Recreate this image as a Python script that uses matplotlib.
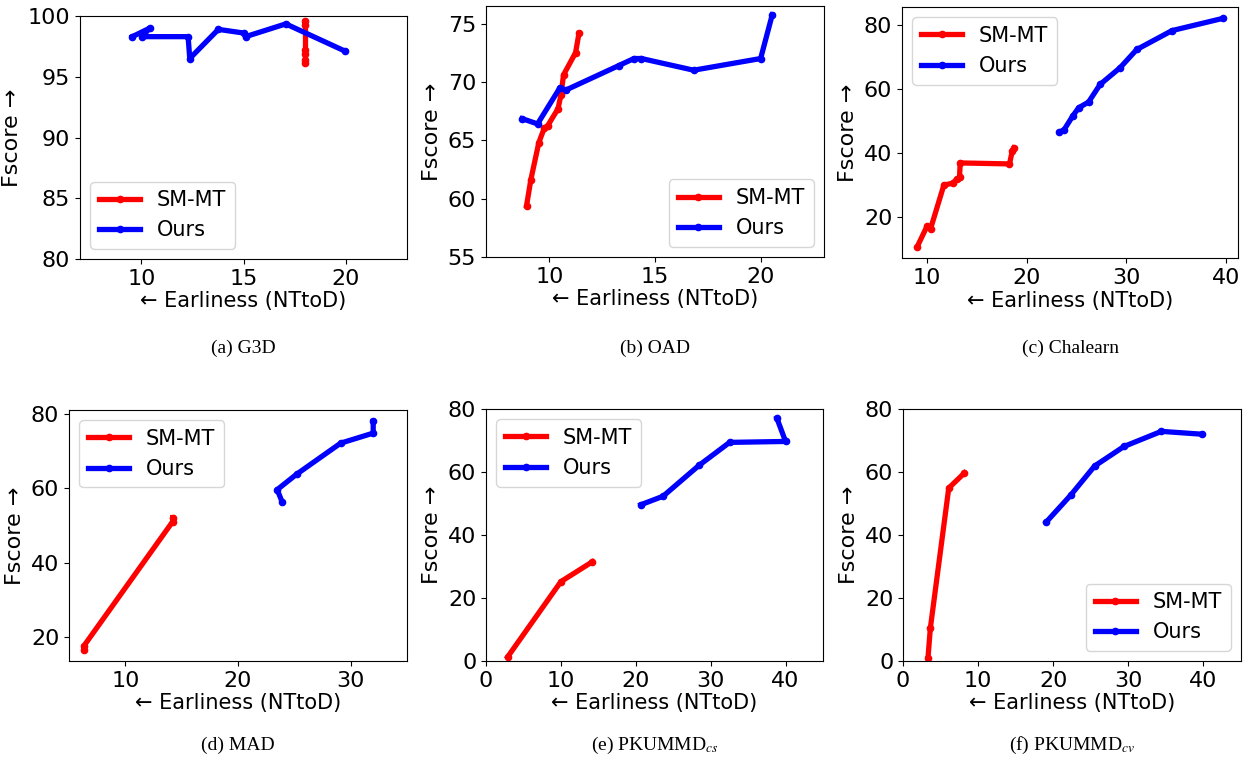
"""
Fscore vs earliness (NTtoD) for SM-MT and our method on six datasets.
"""

import matplotlib
matplotlib.use('Agg')
import matplotlib.pyplot as plt

# (a) G3D
g3d_smmt_x = [18.0, 18.0, 18.0, 18.0, 18.0, 18.0]
g3d_smmt_y = [99.55, 99.25, 97.2, 96.9, 96.4, 96.1]
g3d_ours_x = [9.56, 10.41, 10.05, 12.29, 12.37, 13.77, 15.0, 15.1, 17.07, 19.98]
g3d_ours_y = [98.3, 99.0, 98.3, 98.3, 96.5, 98.9, 98.6, 98.3, 99.35, 97.1]

# (b) OAD
oad_smmt_x = [8.92, 9.12, 9.5, 9.76, 9.92, 10.41, 10.55, 10.67, 11.24, 11.4]
oad_smmt_y = [59.4, 61.6, 64.8, 66.05, 66.25, 67.7, 68.9, 70.6, 72.5, 74.15]
oad_ours_x = [8.71, 9.44, 10.5, 10.78, 13.29, 14.0, 14.36, 16.83, 20.0, 20.55]
oad_ours_y = [66.85, 66.4, 69.5, 69.3, 71.4, 72.0, 72.0, 71.0, 72.0, 75.75]

# (c) Chalearn
cha_smmt_x = [9.0, 9.97, 10.33, 11.67, 12.58, 13.0, 13.24, 13.31, 18.26, 18.53, 18.7]
cha_smmt_y = [10.9, 17.2, 16.4, 30.1, 30.7, 32.1, 32.5, 37.0, 36.7, 40.6, 41.7]
cha_ours_x = [23.28, 23.75, 24.6, 25.2, 26.2, 27.36, 29.36, 31.04, 34.58, 39.67]
cha_ours_y = [46.6, 47.4, 51.6, 54.2, 56.0, 61.5, 66.7, 72.4, 78.3, 82.1]

# (d) MAD
mad_smmt_x = [6.3, 6.3, 14.2, 14.2]
mad_smmt_y = [16.6, 17.5, 51.0, 52.1]
mad_ours_x = [23.93, 23.48, 25.2, 29.11, 32.0, 32.0]
mad_ours_y = [56.2, 59.6, 63.75, 72.1, 74.8, 77.95]

# (e) PKUMMD cs
cs_smmt_x = [2.89, 10.0, 14.2]
cs_smmt_y = [1.3, 25.2, 31.5]
cs_ours_x = [20.67, 23.64, 28.44, 32.53, 40.0, 38.84]
cs_ours_y = [49.6, 52.3, 62.1, 69.4, 69.7, 77.1]

# (f) PKUMMD cv
cv_smmt_x = [3.33, 3.64, 6.09, 8.18]
cv_smmt_y = [1.1, 10.4, 54.9, 59.7]
cv_ours_x = [19.07, 22.31, 25.51, 29.42, 34.4, 39.78]
cv_ours_y = [44.1, 52.6, 61.9, 68.1, 72.9, 72.0]

captions = ['(a) G3D', '(b) OAD', '(c) Chalearn', '(d) MAD',
            r'(e) PKUMMD$_{cs}$', r'(f) PKUMMD$_{cv}$']

W, H = 1249, 767
# axes boxes in pixels: left, right, top, bottom
boxes = [(80, 407, 16, 259), (486, 824, 6, 257), (902, 1238, 7, 258),
         (69, 407, 410, 661), (486, 823, 409, 661), (903, 1241, 409, 661)]

panels = [
    (g3d_smmt_x, g3d_smmt_y, g3d_ours_x, g3d_ours_y, (7, 23), (80, 100), 'lower left'),
    (oad_smmt_x, oad_smmt_y, oad_ours_x, oad_ours_y, (7, 23), (55, 76.5), 'lower right'),
    (cha_smmt_x, cha_smmt_y, cha_ours_x, cha_ours_y, None, None, 'upper left'),
    (mad_smmt_x, mad_smmt_y, mad_ours_x, mad_ours_y, (5, 35), None, 'upper left'),
    (cs_smmt_x, cs_smmt_y, cs_ours_x, cs_ours_y, (0, 45), (0, 80), 'upper left'),
    (cv_smmt_x, cv_smmt_y, cv_ours_x, cv_ours_y, (0, 45), (0, 80), 'lower right'),
]

plt.rcParams['font.size'] = 15
plt.rcParams['xtick.labelsize'] = 16
plt.rcParams['ytick.labelsize'] = 16
plt.rcParams['mathtext.fontset'] = 'stix'

fig = plt.figure(figsize=(W / 100, H / 100), dpi=100)

for i, (sx, sy, ox, oy, xl, yl, loc) in enumerate(panels):
    l, r, t, b = boxes[i]
    ax = fig.add_axes([l / W, 1 - b / H, (r - l) / W, (b - t) / H])
    ax.plot(sx, sy, color='red', linewidth=3.8, marker='o', markersize=4.5, label='SM-MT')
    ax.plot(ox, oy, color='blue', linewidth=3.8, marker='o', markersize=4.5, label='Ours')
    if xl is not None:
        ax.set_xlim(xl)
    if yl is not None:
        ax.set_ylim(yl)
    ax.set_xlabel('← Earliness (NTtoD)', labelpad=2)
    ax.set_ylabel('Fscore →', fontsize=16, labelpad=4)
    ax.legend(loc=loc, fontsize=15)
    cx = (l + r) / 2 / W
    cy = 1 - (348 if i < 3 else 745) / H
    fig.text(cx, cy, captions[i], ha='center', va='center',
             family='Liberation Serif', fontsize=14)

fig.savefig('out.png', dpi=100)
